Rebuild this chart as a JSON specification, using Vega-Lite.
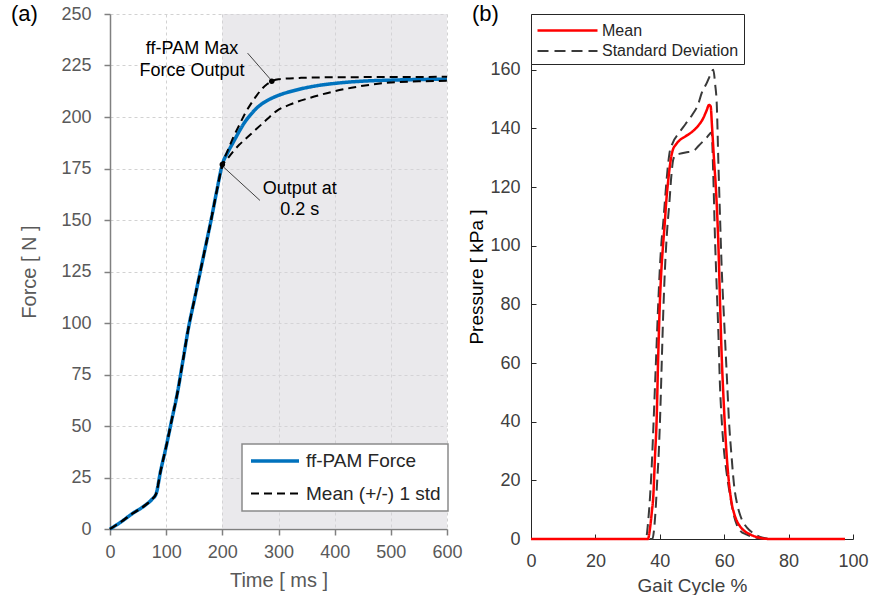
{
  "$schema": "https://vega.github.io/schema/vega-lite/v6.json",
  "padding": {"left": 11, "top": 2, "right": 0, "bottom": 0},
  "background": "white",
  "config": {"font": "Liberation Sans", "view": {"stroke": null}},
  "datasets": {
    "force": [
      {"s": "ff-PAM Force", "g": "blue", "t": 0, "f": 0},
      {"s": "ff-PAM Force", "g": "blue", "t": 20, "f": 3.5},
      {"s": "ff-PAM Force", "g": "blue", "t": 40, "f": 7.5},
      {"s": "ff-PAM Force", "g": "blue", "t": 60, "f": 11},
      {"s": "ff-PAM Force", "g": "blue", "t": 75, "f": 14.5},
      {"s": "ff-PAM Force", "g": "blue", "t": 82, "f": 17},
      {"s": "ff-PAM Force", "g": "blue", "t": 90, "f": 28},
      {"s": "ff-PAM Force", "g": "blue", "t": 100, "f": 40},
      {"s": "ff-PAM Force", "g": "blue", "t": 110, "f": 53},
      {"s": "ff-PAM Force", "g": "blue", "t": 120, "f": 66},
      {"s": "ff-PAM Force", "g": "blue", "t": 130, "f": 82},
      {"s": "ff-PAM Force", "g": "blue", "t": 140, "f": 98},
      {"s": "ff-PAM Force", "g": "blue", "t": 150, "f": 111},
      {"s": "ff-PAM Force", "g": "blue", "t": 160, "f": 124},
      {"s": "ff-PAM Force", "g": "blue", "t": 170, "f": 137},
      {"s": "ff-PAM Force", "g": "blue", "t": 180, "f": 150},
      {"s": "ff-PAM Force", "g": "blue", "t": 190, "f": 164},
      {"s": "ff-PAM Force", "g": "blue", "t": 200, "f": 177},
      {"s": "ff-PAM Force", "g": "blue", "t": 210, "f": 183},
      {"s": "ff-PAM Force", "g": "blue", "t": 220, "f": 188},
      {"s": "ff-PAM Force", "g": "blue", "t": 230, "f": 193},
      {"s": "ff-PAM Force", "g": "blue", "t": 240, "f": 197.5},
      {"s": "ff-PAM Force", "g": "blue", "t": 250, "f": 201},
      {"s": "ff-PAM Force", "g": "blue", "t": 260, "f": 204},
      {"s": "ff-PAM Force", "g": "blue", "t": 270, "f": 206.3},
      {"s": "ff-PAM Force", "g": "blue", "t": 280, "f": 208},
      {"s": "ff-PAM Force", "g": "blue", "t": 300, "f": 210.5},
      {"s": "ff-PAM Force", "g": "blue", "t": 330, "f": 213},
      {"s": "ff-PAM Force", "g": "blue", "t": 360, "f": 214.8},
      {"s": "ff-PAM Force", "g": "blue", "t": 400, "f": 216.3},
      {"s": "ff-PAM Force", "g": "blue", "t": 450, "f": 217.4},
      {"s": "ff-PAM Force", "g": "blue", "t": 500, "f": 217.9},
      {"s": "ff-PAM Force", "g": "blue", "t": 550, "f": 218.2},
      {"s": "ff-PAM Force", "g": "blue", "t": 600, "f": 218.4},
      {"s": "Mean (+/-) 1 std", "g": "upper", "t": 0, "f": 0},
      {"s": "Mean (+/-) 1 std", "g": "upper", "t": 20, "f": 3.5},
      {"s": "Mean (+/-) 1 std", "g": "upper", "t": 40, "f": 7.5},
      {"s": "Mean (+/-) 1 std", "g": "upper", "t": 60, "f": 11},
      {"s": "Mean (+/-) 1 std", "g": "upper", "t": 75, "f": 14.5},
      {"s": "Mean (+/-) 1 std", "g": "upper", "t": 82, "f": 17},
      {"s": "Mean (+/-) 1 std", "g": "upper", "t": 90, "f": 28},
      {"s": "Mean (+/-) 1 std", "g": "upper", "t": 100, "f": 40},
      {"s": "Mean (+/-) 1 std", "g": "upper", "t": 110, "f": 53},
      {"s": "Mean (+/-) 1 std", "g": "upper", "t": 120, "f": 66},
      {"s": "Mean (+/-) 1 std", "g": "upper", "t": 130, "f": 82},
      {"s": "Mean (+/-) 1 std", "g": "upper", "t": 140, "f": 98},
      {"s": "Mean (+/-) 1 std", "g": "upper", "t": 150, "f": 111},
      {"s": "Mean (+/-) 1 std", "g": "upper", "t": 160, "f": 124},
      {"s": "Mean (+/-) 1 std", "g": "upper", "t": 170, "f": 137},
      {"s": "Mean (+/-) 1 std", "g": "upper", "t": 180, "f": 150},
      {"s": "Mean (+/-) 1 std", "g": "upper", "t": 190, "f": 164},
      {"s": "Mean (+/-) 1 std", "g": "upper", "t": 200, "f": 177},
      {"s": "Mean (+/-) 1 std", "g": "upper", "t": 210, "f": 184},
      {"s": "Mean (+/-) 1 std", "g": "upper", "t": 220, "f": 190.5},
      {"s": "Mean (+/-) 1 std", "g": "upper", "t": 230, "f": 196},
      {"s": "Mean (+/-) 1 std", "g": "upper", "t": 240, "f": 201.5},
      {"s": "Mean (+/-) 1 std", "g": "upper", "t": 250, "f": 206},
      {"s": "Mean (+/-) 1 std", "g": "upper", "t": 260, "f": 210},
      {"s": "Mean (+/-) 1 std", "g": "upper", "t": 270, "f": 213.5},
      {"s": "Mean (+/-) 1 std", "g": "upper", "t": 280, "f": 216},
      {"s": "Mean (+/-) 1 std", "g": "upper", "t": 290, "f": 217.6},
      {"s": "Mean (+/-) 1 std", "g": "upper", "t": 300, "f": 218.3},
      {"s": "Mean (+/-) 1 std", "g": "upper", "t": 340, "f": 219},
      {"s": "Mean (+/-) 1 std", "g": "upper", "t": 400, "f": 219.3},
      {"s": "Mean (+/-) 1 std", "g": "upper", "t": 500, "f": 219.4},
      {"s": "Mean (+/-) 1 std", "g": "upper", "t": 600, "f": 219.5},
      {"s": "Mean (+/-) 1 std", "g": "lower", "t": 0, "f": 0},
      {"s": "Mean (+/-) 1 std", "g": "lower", "t": 20, "f": 3.5},
      {"s": "Mean (+/-) 1 std", "g": "lower", "t": 40, "f": 7.5},
      {"s": "Mean (+/-) 1 std", "g": "lower", "t": 60, "f": 11},
      {"s": "Mean (+/-) 1 std", "g": "lower", "t": 75, "f": 14.5},
      {"s": "Mean (+/-) 1 std", "g": "lower", "t": 82, "f": 17},
      {"s": "Mean (+/-) 1 std", "g": "lower", "t": 90, "f": 28},
      {"s": "Mean (+/-) 1 std", "g": "lower", "t": 100, "f": 40},
      {"s": "Mean (+/-) 1 std", "g": "lower", "t": 110, "f": 53},
      {"s": "Mean (+/-) 1 std", "g": "lower", "t": 120, "f": 66},
      {"s": "Mean (+/-) 1 std", "g": "lower", "t": 130, "f": 82},
      {"s": "Mean (+/-) 1 std", "g": "lower", "t": 140, "f": 98},
      {"s": "Mean (+/-) 1 std", "g": "lower", "t": 150, "f": 111},
      {"s": "Mean (+/-) 1 std", "g": "lower", "t": 160, "f": 124},
      {"s": "Mean (+/-) 1 std", "g": "lower", "t": 170, "f": 137},
      {"s": "Mean (+/-) 1 std", "g": "lower", "t": 180, "f": 150},
      {"s": "Mean (+/-) 1 std", "g": "lower", "t": 190, "f": 164},
      {"s": "Mean (+/-) 1 std", "g": "lower", "t": 200, "f": 176},
      {"s": "Mean (+/-) 1 std", "g": "lower", "t": 210, "f": 180},
      {"s": "Mean (+/-) 1 std", "g": "lower", "t": 220, "f": 183.5},
      {"s": "Mean (+/-) 1 std", "g": "lower", "t": 230, "f": 186.5},
      {"s": "Mean (+/-) 1 std", "g": "lower", "t": 240, "f": 189},
      {"s": "Mean (+/-) 1 std", "g": "lower", "t": 250, "f": 191.5},
      {"s": "Mean (+/-) 1 std", "g": "lower", "t": 260, "f": 194},
      {"s": "Mean (+/-) 1 std", "g": "lower", "t": 270, "f": 196.5},
      {"s": "Mean (+/-) 1 std", "g": "lower", "t": 280, "f": 199},
      {"s": "Mean (+/-) 1 std", "g": "lower", "t": 297, "f": 203},
      {"s": "Mean (+/-) 1 std", "g": "lower", "t": 320, "f": 206},
      {"s": "Mean (+/-) 1 std", "g": "lower", "t": 356, "f": 209.3},
      {"s": "Mean (+/-) 1 std", "g": "lower", "t": 400, "f": 212.5},
      {"s": "Mean (+/-) 1 std", "g": "lower", "t": 430, "f": 214.2},
      {"s": "Mean (+/-) 1 std", "g": "lower", "t": 486, "f": 216.4},
      {"s": "Mean (+/-) 1 std", "g": "lower", "t": 550, "f": 217.3},
      {"s": "Mean (+/-) 1 std", "g": "lower", "t": 600, "f": 217.6}
    ],
    "shade": [{"x1": 200, "x2": 600, "y1": 0, "y2": 250}],
    "dots": [{"t": 288, "f": 217.4}, {"t": 200, "f": 177}],
    "leaders": [
      {"t1": 245, "f1": 231, "t2": 285, "f2": 218.5},
      {"t1": 201, "f1": 176, "t2": 267, "f2": 159.5}
    ],
    "notes": [
      {"t": 146, "f": 233, "label": "ff-PAM Max"},
      {"t": 146, "f": 222.3, "label": "Force Output"},
      {"t": 338, "f": 165, "label": "Output at"},
      {"t": 338, "f": 154.7, "label": "0.2 s"}
    ],
    "pressure": [
      {"s": "Mean", "k": "mean", "x": 0, "p": 0},
      {"s": "Mean", "k": "mean", "x": 36.3, "p": 0},
      {"s": "Mean", "k": "mean", "x": 37, "p": 4},
      {"s": "Mean", "k": "mean", "x": 37.5, "p": 9},
      {"s": "Mean", "k": "mean", "x": 38, "p": 15},
      {"s": "Mean", "k": "mean", "x": 38.5, "p": 28},
      {"s": "Mean", "k": "mean", "x": 39, "p": 40},
      {"s": "Mean", "k": "mean", "x": 39.5, "p": 62},
      {"s": "Mean", "k": "mean", "x": 40, "p": 80},
      {"s": "Mean", "k": "mean", "x": 40.5, "p": 92},
      {"s": "Mean", "k": "mean", "x": 41, "p": 100},
      {"s": "Mean", "k": "mean", "x": 41.5, "p": 107},
      {"s": "Mean", "k": "mean", "x": 42, "p": 115},
      {"s": "Mean", "k": "mean", "x": 42.5, "p": 121},
      {"s": "Mean", "k": "mean", "x": 43, "p": 126},
      {"s": "Mean", "k": "mean", "x": 43.5, "p": 130},
      {"s": "Mean", "k": "mean", "x": 44, "p": 132.5},
      {"s": "Mean", "k": "mean", "x": 45, "p": 134.5},
      {"s": "Mean", "k": "mean", "x": 46, "p": 135.8},
      {"s": "Mean", "k": "mean", "x": 48, "p": 137.3},
      {"s": "Mean", "k": "mean", "x": 50, "p": 138.8},
      {"s": "Mean", "k": "mean", "x": 52, "p": 141},
      {"s": "Mean", "k": "mean", "x": 53.5, "p": 143.5},
      {"s": "Mean", "k": "mean", "x": 54.5, "p": 146},
      {"s": "Mean", "k": "mean", "x": 55.3, "p": 148},
      {"s": "Mean", "k": "mean", "x": 55.8, "p": 147.5},
      {"s": "Mean", "k": "mean", "x": 56.2, "p": 141},
      {"s": "Mean", "k": "mean", "x": 56.8, "p": 130},
      {"s": "Mean", "k": "mean", "x": 57.5, "p": 118},
      {"s": "Mean", "k": "mean", "x": 58.2, "p": 100},
      {"s": "Mean", "k": "mean", "x": 58.7, "p": 81},
      {"s": "Mean", "k": "mean", "x": 59.2, "p": 63},
      {"s": "Mean", "k": "mean", "x": 59.7, "p": 50},
      {"s": "Mean", "k": "mean", "x": 60.3, "p": 37},
      {"s": "Mean", "k": "mean", "x": 60.8, "p": 28},
      {"s": "Mean", "k": "mean", "x": 61.5, "p": 19},
      {"s": "Mean", "k": "mean", "x": 62.2, "p": 13},
      {"s": "Mean", "k": "mean", "x": 63, "p": 9},
      {"s": "Mean", "k": "mean", "x": 64, "p": 6},
      {"s": "Mean", "k": "mean", "x": 65, "p": 4.2},
      {"s": "Mean", "k": "mean", "x": 66, "p": 3},
      {"s": "Mean", "k": "mean", "x": 68, "p": 1.6},
      {"s": "Mean", "k": "mean", "x": 70, "p": 0.7},
      {"s": "Mean", "k": "mean", "x": 72, "p": 0.2},
      {"s": "Mean", "k": "mean", "x": 74, "p": 0},
      {"s": "Mean", "k": "mean", "x": 97.5, "p": 0},
      {"s": "Standard Deviation", "k": "upper", "x": 0, "p": 0},
      {"s": "Standard Deviation", "k": "upper", "x": 35.7, "p": 0},
      {"s": "Standard Deviation", "k": "upper", "x": 36.3, "p": 5},
      {"s": "Standard Deviation", "k": "upper", "x": 37, "p": 15},
      {"s": "Standard Deviation", "k": "upper", "x": 37.5, "p": 25},
      {"s": "Standard Deviation", "k": "upper", "x": 38, "p": 38},
      {"s": "Standard Deviation", "k": "upper", "x": 38.5, "p": 52},
      {"s": "Standard Deviation", "k": "upper", "x": 39, "p": 66},
      {"s": "Standard Deviation", "k": "upper", "x": 39.5, "p": 80},
      {"s": "Standard Deviation", "k": "upper", "x": 40, "p": 92},
      {"s": "Standard Deviation", "k": "upper", "x": 40.5, "p": 101},
      {"s": "Standard Deviation", "k": "upper", "x": 41, "p": 107},
      {"s": "Standard Deviation", "k": "upper", "x": 41.5, "p": 114},
      {"s": "Standard Deviation", "k": "upper", "x": 42, "p": 121},
      {"s": "Standard Deviation", "k": "upper", "x": 42.5, "p": 127},
      {"s": "Standard Deviation", "k": "upper", "x": 43, "p": 131.5},
      {"s": "Standard Deviation", "k": "upper", "x": 44, "p": 135},
      {"s": "Standard Deviation", "k": "upper", "x": 46, "p": 138.5},
      {"s": "Standard Deviation", "k": "upper", "x": 48, "p": 141.5},
      {"s": "Standard Deviation", "k": "upper", "x": 50, "p": 144.5},
      {"s": "Standard Deviation", "k": "upper", "x": 52, "p": 148.5},
      {"s": "Standard Deviation", "k": "upper", "x": 53, "p": 152},
      {"s": "Standard Deviation", "k": "upper", "x": 54.6, "p": 155.5},
      {"s": "Standard Deviation", "k": "upper", "x": 55.8, "p": 158.5},
      {"s": "Standard Deviation", "k": "upper", "x": 56.6, "p": 160},
      {"s": "Standard Deviation", "k": "upper", "x": 57.2, "p": 155},
      {"s": "Standard Deviation", "k": "upper", "x": 57.7, "p": 148},
      {"s": "Standard Deviation", "k": "upper", "x": 58.2, "p": 128},
      {"s": "Standard Deviation", "k": "upper", "x": 58.7, "p": 110},
      {"s": "Standard Deviation", "k": "upper", "x": 59.2, "p": 93},
      {"s": "Standard Deviation", "k": "upper", "x": 60, "p": 74},
      {"s": "Standard Deviation", "k": "upper", "x": 60.8, "p": 56},
      {"s": "Standard Deviation", "k": "upper", "x": 61.5, "p": 40},
      {"s": "Standard Deviation", "k": "upper", "x": 62.3, "p": 28},
      {"s": "Standard Deviation", "k": "upper", "x": 63, "p": 19},
      {"s": "Standard Deviation", "k": "upper", "x": 64, "p": 12},
      {"s": "Standard Deviation", "k": "upper", "x": 65, "p": 8},
      {"s": "Standard Deviation", "k": "upper", "x": 66, "p": 5.5},
      {"s": "Standard Deviation", "k": "upper", "x": 67, "p": 4},
      {"s": "Standard Deviation", "k": "upper", "x": 69, "p": 2},
      {"s": "Standard Deviation", "k": "upper", "x": 72, "p": 0.4},
      {"s": "Standard Deviation", "k": "upper", "x": 75, "p": 0},
      {"s": "Standard Deviation", "k": "upper", "x": 97.5, "p": 0},
      {"s": "Standard Deviation", "k": "lower", "x": 0, "p": 0},
      {"s": "Standard Deviation", "k": "lower", "x": 37.7, "p": 0},
      {"s": "Standard Deviation", "k": "lower", "x": 38.2, "p": 3},
      {"s": "Standard Deviation", "k": "lower", "x": 38.7, "p": 10},
      {"s": "Standard Deviation", "k": "lower", "x": 39.2, "p": 20},
      {"s": "Standard Deviation", "k": "lower", "x": 39.7, "p": 30},
      {"s": "Standard Deviation", "k": "lower", "x": 40.2, "p": 45},
      {"s": "Standard Deviation", "k": "lower", "x": 40.6, "p": 60},
      {"s": "Standard Deviation", "k": "lower", "x": 41.1, "p": 78},
      {"s": "Standard Deviation", "k": "lower", "x": 41.6, "p": 92},
      {"s": "Standard Deviation", "k": "lower", "x": 42.2, "p": 104},
      {"s": "Standard Deviation", "k": "lower", "x": 43, "p": 115},
      {"s": "Standard Deviation", "k": "lower", "x": 43.6, "p": 124},
      {"s": "Standard Deviation", "k": "lower", "x": 44.2, "p": 129.5},
      {"s": "Standard Deviation", "k": "lower", "x": 45, "p": 131},
      {"s": "Standard Deviation", "k": "lower", "x": 46, "p": 131.3},
      {"s": "Standard Deviation", "k": "lower", "x": 48, "p": 131.8},
      {"s": "Standard Deviation", "k": "lower", "x": 50.4, "p": 132.3},
      {"s": "Standard Deviation", "k": "lower", "x": 52, "p": 134},
      {"s": "Standard Deviation", "k": "lower", "x": 54.6, "p": 136.9},
      {"s": "Standard Deviation", "k": "lower", "x": 56.1, "p": 138.6},
      {"s": "Standard Deviation", "k": "lower", "x": 56.6, "p": 124.4},
      {"s": "Standard Deviation", "k": "lower", "x": 57.1, "p": 104},
      {"s": "Standard Deviation", "k": "lower", "x": 57.6, "p": 88},
      {"s": "Standard Deviation", "k": "lower", "x": 58.2, "p": 70},
      {"s": "Standard Deviation", "k": "lower", "x": 58.7, "p": 52},
      {"s": "Standard Deviation", "k": "lower", "x": 59.2, "p": 41},
      {"s": "Standard Deviation", "k": "lower", "x": 59.7, "p": 33},
      {"s": "Standard Deviation", "k": "lower", "x": 60.7, "p": 23},
      {"s": "Standard Deviation", "k": "lower", "x": 61.8, "p": 15},
      {"s": "Standard Deviation", "k": "lower", "x": 62.8, "p": 9},
      {"s": "Standard Deviation", "k": "lower", "x": 63.9, "p": 4.9},
      {"s": "Standard Deviation", "k": "lower", "x": 65, "p": 2.8},
      {"s": "Standard Deviation", "k": "lower", "x": 67, "p": 1.5},
      {"s": "Standard Deviation", "k": "lower", "x": 70, "p": 0.4},
      {"s": "Standard Deviation", "k": "lower", "x": 73, "p": 0},
      {"s": "Standard Deviation", "k": "lower", "x": 97.5, "p": 0}
    ]
  },
  "hconcat": [
    {
      "width": 337,
      "height": 515,
      "title": {"text": "(a)", "anchor": "start", "frame": "group", "dx": -99, "dy": 21, "offset": 0, "fontSize": 22, "fontWeight": "normal", "color": "#000000"},
      "layer": [
        {
          "data": {"name": "shade"},
          "mark": {"type": "rect", "color": "#d6d4da", "opacity": 0.5},
          "encoding": {
            "x": {"field": "x1", "type": "quantitative", "scale": {"domain": [0, 600], "nice": false},
              "axis": {"title": "Time [ ms ]", "values": [0, 100, 200, 300, 400, 500, 600], "grid": true, "gridDash": [3, 3], "gridColor": "#d2d2d2", "domainColor": "#808080", "domainWidth": 1.5, "tickColor": "#808080", "tickWidth": 1.5, "tickSize": 6, "labelFontSize": 18, "labelColor": "#595959", "labelPadding": 8, "labelFlush": false, "titleFontSize": 20, "titleFontWeight": "normal", "titleColor": "#595959", "titlePadding": 9}},
            "x2": {"field": "x2"},
            "y": {"field": "y1", "type": "quantitative", "scale": {"domain": [0, 250], "nice": false},
              "axis": {"title": "Force [ N ]", "values": [0, 25, 50, 75, 100, 125, 150, 175, 200, 225, 250], "grid": true, "gridDash": [3, 3], "gridColor": "#d2d2d2", "domainColor": "#808080", "domainWidth": 1.5, "tickColor": "#808080", "tickWidth": 1.5, "tickSize": 6, "labelFontSize": 18, "labelColor": "#595959", "labelPadding": 13, "labelFlush": false, "titleFontSize": 20, "titleFontWeight": "normal", "titleColor": "#595959", "titlePadding": 21}},
            "y2": {"field": "y2"}
          }
        },
        {
          "data": {"name": "force"},
          "mark": {"type": "line", "interpolate": "monotone"},
          "encoding": {
            "x": {"field": "t", "type": "quantitative"},
            "y": {"field": "f", "type": "quantitative"},
            "detail": {"field": "g"},
            "color": {"field": "s", "type": "nominal",
              "scale": {"domain": ["ff-PAM Force", "Mean (+/-) 1 std"], "range": ["#0072BD", "#000000"]},
              "legend": {"title": null, "orient": "none", "legendX": 132, "legendY": 430, "fillColor": "white", "strokeColor": "#8a8a8a", "padding": 7, "labelFontSize": 19, "labelColor": "#262626", "labelOffset": 37, "symbolType": "M-1,0H5", "symbolSize": 256, "rowPadding": 13,
                "encode": {"legend": {"update": {"strokeWidth": {"value": 1.5}}}}}},
            "strokeDash": {"field": "s", "type": "nominal",
              "scale": {"domain": ["ff-PAM Force", "Mean (+/-) 1 std"], "range": [[1, 0], [8, 5]]}, "legend": {"title": null}},
            "strokeWidth": {"field": "s", "type": "nominal",
              "scale": {"domain": ["ff-PAM Force", "Mean (+/-) 1 std"], "range": [3.5, 2]}, "legend": {"title": null}},
            "order": {"field": "t", "type": "quantitative"}
          }
        },
        {
          "data": {"name": "leaders"},
          "mark": {"type": "rule", "color": "#404040", "strokeWidth": 1},
          "encoding": {
            "x": {"field": "t1", "type": "quantitative"},
            "y": {"field": "f1", "type": "quantitative"},
            "x2": {"field": "t2"},
            "y2": {"field": "f2"}
          }
        },
        {
          "data": {"name": "dots"},
          "mark": {"type": "point", "filled": true, "color": "#000000", "size": 30, "opacity": 1},
          "encoding": {
            "x": {"field": "t", "type": "quantitative"},
            "y": {"field": "f", "type": "quantitative"}
          }
        },
        {
          "data": {"name": "notes"},
          "mark": {"type": "text", "fontSize": 18, "color": "#000000", "align": "center", "baseline": "middle"},
          "encoding": {
            "x": {"field": "t", "type": "quantitative"},
            "y": {"field": "f", "type": "quantitative"},
            "text": {"field": "label"}
          }
        }
      ]
    },
    {
      "width": 322,
      "height": 525,
      "data": {"name": "pressure"},
      "title": {"text": "(b)", "anchor": "start", "frame": "group", "dx": -59, "dy": 12, "offset": 0, "fontSize": 22, "fontWeight": "normal", "color": "#000000"},
      "encoding": {
        "x": {"field": "x", "type": "quantitative", "scale": {"domain": [0, 100], "nice": false},
          "axis": {"title": "Gait Cycle %", "values": [0, 20, 40, 60, 80, 100], "grid": false, "domainColor": "#262626", "tickColor": "#262626", "tickSize": -5, "labelFontSize": 18, "labelColor": "#404040", "labelBaseline": "top", "labelPadding": 18, "labelFlush": false, "titleFontSize": 19, "titleFontWeight": "normal", "titleColor": "#404040", "titlePadding": 6}},
        "y": {"field": "p", "type": "quantitative", "scale": {"domain": [0, 179], "nice": false},
          "axis": {"title": "Pressure [ kPa ]", "values": [0, 20, 40, 60, 80, 100, 120, 140, 160], "grid": false, "domainColor": "#262626", "tickColor": "#262626", "tickSize": -5, "labelFontSize": 18, "labelColor": "#404040", "labelPadding": 16, "labelFlush": false, "titleFontSize": 19, "titleFontWeight": "normal", "titleColor": "#000000", "titlePadding": 3}},
        "detail": {"field": "k"},
        "order": {"field": "x", "type": "quantitative"},
        "color": {"field": "s", "type": "nominal",
          "scale": {"domain": ["Mean", "Standard Deviation"], "range": ["#ff0000", "#3a3a3a"]},
          "legend": {"title": null, "orient": "none", "legendX": 0, "legendY": 0, "fillColor": "white", "strokeColor": "#262626", "padding": 5, "labelFontSize": 16, "labelColor": "#262626", "labelOffset": 43, "symbolType": "M-1,0H5", "symbolSize": 400, "rowPadding": 1}},
        "strokeDash": {"field": "s", "type": "nominal",
          "scale": {"domain": ["Mean", "Standard Deviation"], "range": [[1, 0], [11, 6]]}, "legend": {"title": null}},
        "strokeWidth": {"field": "s", "type": "nominal",
          "scale": {"domain": ["Mean", "Standard Deviation"], "range": [2.5, 2]}, "legend": {"title": null}}
      },
      "layer": [
        {"transform": [{"filter": "datum.s === 'Standard Deviation'"}], "mark": {"type": "line", "interpolate": "monotone"}},
        {"transform": [{"filter": "datum.s === 'Mean'"}], "mark": {"type": "line", "interpolate": "monotone"}}
      ]
    }
  ],
  "bounds": "flush",
  "spacing": 84,
  "resolve": {
    "scale": {"color": "independent", "strokeDash": "independent", "strokeWidth": "independent", "x": "independent", "y": "independent"},
    "legend": {"color": "independent", "strokeDash": "independent", "strokeWidth": "independent"}
  }
}
